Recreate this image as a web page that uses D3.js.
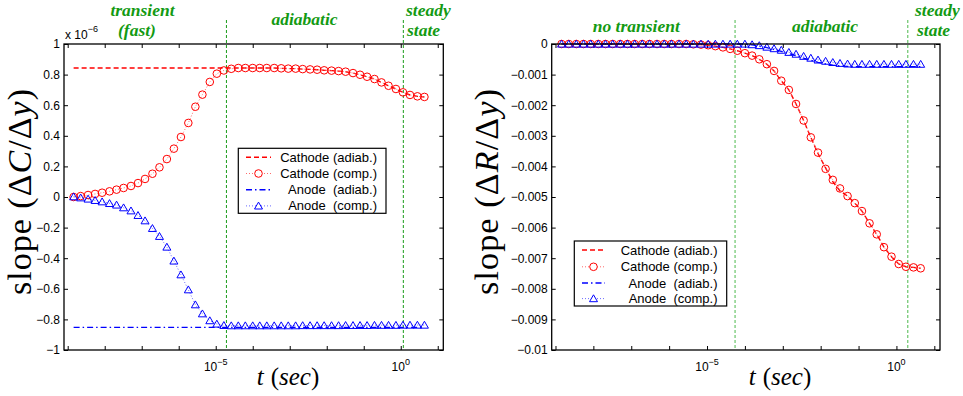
<!DOCTYPE html>
<html lang="en">
<head>
<meta charset="UTF-8">
<title>Slope vs time</title>
<script src="https://d3js.org/d3.v7.min.js"></script>
<style>
    body, html { margin: 0; padding: 0; background: #fff; }
    svg { display: block; font-family: 'Liberation Sans', Arial, sans-serif; }
    .axis text { font-size: 12px; fill: #000; font-family: 'Liberation Sans', Arial, sans-serif; }
    .axis line { stroke: #000; }
    .note { font-family: 'Liberation Serif', 'Times New Roman', serif; font-style: italic; font-weight: bold; font-size: 17.5px; fill: #139a13; }
    .legend text { font-size: 13px; white-space: pre; }
    .mathlab { font-family: 'Liberation Serif', 'Times New Roman', serif; fill: #000; }
</style>
</head>
<body>
<svg id="chart" width="963" height="396"></svg>
<script>
// sample times as log10(t / sec)
const logT = [-8.84, -8.65, -8.45, -8.26, -8.07, -7.87, -7.68, -7.49, -7.29, -7.10,
    -6.91, -6.71, -6.52, -6.32, -6.13, -5.94, -5.74, -5.55, -5.36, -5.16,
    -4.97, -4.78, -4.58, -4.39, -4.20, -4.00, -3.81, -3.62, -3.42, -3.23,
    -3.04, -2.84, -2.65, -2.45, -2.26, -2.07, -1.87, -1.68, -1.49, -1.29,
    -1.10, -0.91, -0.71, -0.52, -0.33, -0.13, 0.06, 0.25, 0.45, 0.64]

// left panel, slope dC/dy in units of 1e-6
const cathodeCompC = [0, 0.006, 0.013, 0.02, 0.028, 0.037, 0.048, 0.059, 0.072, 0.091,
    0.118, 0.152, 0.194, 0.248, 0.316, 0.392, 0.484, 0.59, 0.669, 0.752,
    0.806, 0.827, 0.838, 0.843, 0.843, 0.843, 0.843, 0.843, 0.843, 0.841,
    0.839, 0.839, 0.836, 0.834, 0.832, 0.828, 0.826, 0.823, 0.819, 0.81,
    0.799, 0.786, 0.771, 0.749, 0.727, 0.706, 0.684, 0.667, 0.658, 0.654]
const cathodeAdiabC = [0.843, 0.843, 0.843, 0.843, 0.843, 0.843, 0.843, 0.843, 0.843, 0.843,
    0.843, 0.843, 0.843, 0.843, 0.843, 0.843, 0.843, 0.843, 0.843, 0.843,
    0.843, 0.843, 0.843, 0.843, 0.843, 0.843, 0.843, 0.843, 0.843, 0.841,
    0.839, 0.839, 0.836, 0.834, 0.832, 0.828, 0.826, 0.823, 0.819, 0.81,
    0.799, 0.786, 0.771, 0.749, 0.727, 0.706, 0.684, 0.667, 0.658, 0.654]
const anodeCompC = [0.002, -0.005, -0.013, -0.022, -0.031, -0.042, -0.052, -0.07, -0.09, -0.12,
    -0.155, -0.205, -0.257, -0.327, -0.418, -0.508, -0.606, -0.704, -0.763, -0.808,
    -0.83, -0.839, -0.841, -0.841, -0.841, -0.841, -0.841, -0.841, -0.841, -0.841,
    -0.841, -0.841, -0.84, -0.84, -0.84, -0.84, -0.84, -0.84, -0.839, -0.839,
    -0.839, -0.839, -0.838, -0.838, -0.838, -0.838, -0.837, -0.837, -0.837, -0.837]
const anodeAdiabC = [-0.852, -0.852, -0.852, -0.852, -0.852, -0.852, -0.852, -0.852, -0.852, -0.852,
    -0.852, -0.852, -0.852, -0.852, -0.852, -0.852, -0.852, -0.852, -0.852, -0.852,
    -0.852, -0.852, -0.852, -0.852, -0.852, -0.852, -0.852, -0.852, -0.852, -0.852,
    -0.852, -0.852, -0.852, -0.852, -0.852, -0.852, -0.852, -0.852, -0.852, -0.852,
    -0.852, -0.852, -0.852, -0.852, -0.852, -0.852, -0.852, -0.852, -0.852, -0.852]

// right panel, slope dR/dy
const cathodeCompR = [0, 0, 0, 0, 0, 0, 0, 0, 0, 0,
    0, 0, 0, 0, 0, 0, 0, 0, -0.00001, -0.00002,
    -0.00004, -0.00007, -0.00011, -0.00016, -0.00022, -0.0003, -0.00038, -0.0005, -0.00066, -0.00088,
    -0.0012, -0.0015, -0.00196, -0.0025, -0.00305, -0.00355, -0.00408, -0.00444, -0.00472, -0.00497,
    -0.0052, -0.00546, -0.00586, -0.00622, -0.00664, -0.00695, -0.00719, -0.00728, -0.0073, -0.00733]
const cathodeAdiabR = [0, 0, 0, 0, 0, 0, 0, 0, 0, 0,
    0, 0, 0, 0, 0, 0, 0, 0, -0.00001, -0.00002,
    -0.00004, -0.00007, -0.00011, -0.00016, -0.00022, -0.0003, -0.00038, -0.0005, -0.00066, -0.00088,
    -0.0012, -0.0015, -0.00196, -0.0025, -0.00305, -0.00358, -0.00405, -0.0045, -0.0048, -0.00497,
    -0.0052, -0.00546, -0.00586, -0.00622, -0.00664, -0.00695, -0.00719, -0.00728, -0.0073, -0.00733]
const anodeCompR = [0, 0, 0, 0, 0, 0, 0, 0, 0, 0,
    0, 0, 0, 0, 0, 0, 0, 0, 0, 0,
    0, 0, 0, 0, 0, 0, -0.00002, -0.00005, -0.0001, -0.00015,
    -0.0002, -0.00027, -0.00033, -0.0004, -0.00046, -0.00052, -0.00056, -0.0006, -0.00063, -0.00065,
    -0.00066, -0.00066, -0.00066, -0.00066, -0.00066, -0.00066, -0.00066, -0.00066, -0.00066, -0.00066]
const anodeAdiabR = [0, 0, 0, 0, 0, 0, 0, 0, 0, 0,
    0, 0, 0, 0, 0, 0, 0, 0, 0, 0,
    0, 0, 0, 0, 0, 0, -0.00003, -0.00007, -0.00012, -0.00018,
    -0.00024, -0.00031, -0.00038, -0.00046, -0.00053, -0.0006, -0.00065, -0.00069, -0.00072, -0.00073,
    -0.00074, -0.00074, -0.00074, -0.00074, -0.00074, -0.00074, -0.00074, -0.00074, -0.00074, -0.00074]

const decades = [-9, -8, -7, -6, -5, -4, -3, -2, -1, 0, 1]
const labelledDecades = [-5, 0]
const yTicksC = [-1, -0.8, -0.6, -0.4, -0.2, 0, 0.2, 0.4, 0.6, 0.8, 1]
const yTicksR = [-0.01, -0.009, -0.008, -0.007, -0.006, -0.005, -0.004, -0.003, -0.002, -0.001, 0]
const legendLabels = ["Cathode (adiab.)", "Cathode (comp.)", "Anode  (adiab.)", "Anode  (comp.)"]
// regime boundaries, log10(t)
const boundsC = [-4.71, 0.07]
const boundsR = [-4.26, 0.30]

const svg = d3.select("#chart")

const triPath = "M0,-3.8L4,3.1L-4,3.1Z"

function drawPanel(p) {
    const g = svg.append("g")
    const x = d3.scaleLog().domain([Math.pow(10, -9.1), Math.pow(10, 1.15)]).range([p.left, p.right])
    const y = d3.scaleLinear().domain(p.yDomain).range([p.bottom, p.top])

    // regime separators
    g.selectAll(".sep").data(p.bounds).enter().append("line")
        .attr("x1", d => x(Math.pow(10, d))).attr("x2", d => x(Math.pow(10, d)))
        .attr("y1", 20).attr("y2", p.bottom)
        .style("stroke", p.sepColor).style("stroke-width", 1).style("stroke-dasharray", "3,2")

    // axes, ticks pointing inward like matlab
    g.append("g").attr("class", "axis").attr("transform", `translate(${p.left},0)`)
        .call(d3.axisLeft(y).tickValues(p.yTicks).tickSize(-4).tickSizeOuter(0).tickPadding(4).tickFormat(p.fmt))
    g.append("g").attr("class", "axis").attr("transform", `translate(${p.right},0)`)
        .call(d3.axisRight(y).tickValues(p.yTicks).tickSize(-4).tickSizeOuter(0).tickFormat(""))
    g.append("g").attr("class", "axis").attr("transform", `translate(0,${p.bottom})`)
        .call(d3.axisBottom(x).tickValues(decades.map(d => Math.pow(10, d))).tickSize(-4).tickSizeOuter(0).tickFormat(""))
    g.append("g").attr("class", "axis").attr("transform", `translate(0,${p.top})`)
        .call(d3.axisTop(x).tickValues(decades.map(d => Math.pow(10, d))).tickSize(-4).tickSizeOuter(0).tickFormat(""))
    g.selectAll(".axis .domain").remove()

    // x tick labels 10^n
    labelledDecades.forEach(d => {
        const t = g.append("text").attr("x", x(Math.pow(10, d))).attr("y", p.bottom + 21)
            .attr("text-anchor", "middle").style("font-size", "12px")
        t.append("tspan").text("10")
        t.append("tspan").attr("dy", -6).style("font-size", "9px").text(d === 0 ? "0" : "\u2212" + Math.abs(d))
    })

    // series
    const pts = (vals) => vals.map((v, i) => [logT[i], v])
    const line = d3.line().x(d => x(Math.pow(10, d[0]))).y(d => y(d[1]))

    g.append("path").attr("d", line(pts(p.cathAdiab))).style("fill", "none")
        .style("stroke", "#ff0000").style("stroke-width", 1.4).style("stroke-dasharray", "5,3")
    g.append("path").attr("d", line(pts(p.anAdiab))).style("fill", "none")
        .style("stroke", "#0000ff").style("stroke-width", 1.4).style("stroke-dasharray", "6,3,1.5,3")
    g.append("path").attr("d", line(pts(p.cathComp))).style("fill", "none")
        .style("stroke", "#ff6a6a").style("stroke-width", 1).style("stroke-dasharray", "1,2")
    g.append("path").attr("d", line(pts(p.anComp))).style("fill", "none")
        .style("stroke", "#6a6aff").style("stroke-width", 1).style("stroke-dasharray", "1,2")

    g.selectAll(".circ").data(pts(p.cathComp)).enter().append("circle")
        .attr("cx", d => x(Math.pow(10, d[0]))).attr("cy", d => y(d[1])).attr("r", 3.8)
        .style("fill", "none").style("stroke", "#ff0000").style("stroke-width", 1)
    g.selectAll(".tri").data(pts(p.anComp)).enter().append("path")
        .attr("d", triPath)
        .attr("transform", d => `translate(${x(Math.pow(10, d[0]))},${y(d[1])})`)
        .style("fill", "none").style("stroke", "#0000ff").style("stroke-width", 1)

    // box
    g.append("rect").attr("x", p.left).attr("y", p.top)
        .attr("width", p.right - p.left).attr("height", p.bottom - p.top)
        .style("fill", "none").style("stroke", "#000").style("stroke-width", 1.3)

    // legend
    const L = p.legend
    const lg = g.append("g").attr("class", "legend")
    lg.append("rect").attr("x", L.x).attr("y", L.y).attr("width", L.w).attr("height", L.h)
        .style("fill", "#fff").style("stroke", "#000").style("stroke-width", 1.2)
    const styles = [
        { c: "#ff0000", dash: "5,3", w: 1.4, m: null },
        { c: "#ff6a6a", dash: "1,2", w: 1, m: "circle" },
        { c: "#0000ff", dash: "6,3,1.5,3", w: 1.4, m: null },
        { c: "#6a6aff", dash: "1,2", w: 1, m: "tri" }
    ]
    legendLabels.forEach((lab, i) => {
        const ry = L.rows[i]
        const s = styles[i]
        lg.append("line").attr("x1", L.lx0).attr("x2", L.lx1).attr("y1", ry).attr("y2", ry)
            .style("stroke", s.c).style("stroke-width", s.w).style("stroke-dasharray", s.dash)
        const mx = (L.lx0 + L.lx1) / 2
        if (s.m === "circle") {
            lg.append("circle").attr("cx", mx).attr("cy", ry).attr("r", 3.8)
                .style("fill", "#fff").style("stroke", "#ff0000").style("stroke-width", 1)
        } else if (s.m === "tri") {
            lg.append("path").attr("d", triPath).attr("transform", `translate(${mx},${ry})`)
                .style("fill", "#fff").style("stroke", "#0000ff").style("stroke-width", 1)
        }
        lg.append("text").attr("x", L.tx).attr("y", ry + 4.5).attr("text-anchor", "end").text(lab)
    })

    // regime notes
    p.notes.forEach(n => {
        g.append("text").attr("class", "note").attr("x", n.x).attr("y", n.y)
            .attr("text-anchor", n.anchor || "middle").text(n.text)
    })

    // axis labels
    const yt = g.append("text").attr("class", "mathlab")
        .attr("transform", `translate(${p.ylabX},${p.ylabY}) rotate(-90)`)
        .attr("text-anchor", "middle").style("font-size", "34px")
        .attr("textLength", 206).attr("lengthAdjust", "spacing")
    yt.append("tspan").text("slope (\u0394")
    yt.append("tspan").style("font-style", "italic").text(p.yVar)
    yt.append("tspan").text("/\u0394")
    yt.append("tspan").style("font-style", "italic").text("y")
    yt.append("tspan").text(")")

    const xl = g.append("text").attr("class", "mathlab").attr("x", p.xlabX).attr("y", 385)
        .attr("text-anchor", "middle").style("font-size", "25px")
    xl.append("tspan").style("font-style", "italic").text("t")
    xl.append("tspan").attr("dx", 7).text("(")
    xl.append("tspan").style("font-style", "italic").text("sec")
    xl.append("tspan").text(")")
    return g
}

const gl = drawPanel({
    left: 64, right: 443.3, top: 44, bottom: 350,
    yDomain: [-1, 1], yTicks: yTicksC, fmt: d3.format(".1~f"),
    cathComp: cathodeCompC, cathAdiab: cathodeAdiabC, anComp: anodeCompC, anAdiab: anodeAdiabC,
    bounds: boundsC, sepColor: "#1a9c1a",
    legend: { x: 238.3, y: 148.3, w: 147.7, h: 65, lx0: 246, lx1: 271, tx: 377, rows: [157.3, 173.5, 189.7, 205.9] },
    notes: [
        { text: "transient", x: 142.5, y: 16 },
        { text: "(fast)", x: 137, y: 35.5 },
        { text: "adiabatic", x: 304.5, y: 25 },
        { text: "steady", x: 406, y: 15.5, anchor: "start" },
        { text: "state", x: 407, y: 35.5, anchor: "start" }
    ],
    yVar: "C", ylabX: 31, ylabY: 192, xlabX: 288
})
// exponent label for the left y axis
const ex = gl.append("text").attr("x", 65).attr("y", 38.5).style("font-size", "12px")
ex.append("tspan").text("x 10")
ex.append("tspan").attr("dy", -7).style("font-size", "9px").text("\u22126")

drawPanel({
    left: 551.7, right: 940, top: 44, bottom: 350,
    yDomain: [-0.01, 0], yTicks: yTicksR, fmt: d3.format(".3~f"),
    cathComp: cathodeCompR, cathAdiab: cathodeAdiabR, anComp: anodeCompR, anAdiab: anodeAdiabR,
    bounds: boundsR, sepColor: "#4cb84c",
    legend: { x: 574.3, y: 241, w: 152.4, h: 65, lx0: 582, lx1: 605, tx: 717.5, rows: [250, 266.8, 283, 298.6] },
    notes: [
        { text: "no transient", x: 636.3, y: 31.5 },
        { text: "adiabatic", x: 825, y: 31.5 },
        { text: "steady", x: 915, y: 15.5, anchor: "start" },
        { text: "state", x: 917, y: 35.5, anchor: "start" }
    ],
    yVar: "R", ylabX: 498, ylabY: 192, xlabX: 780
})
</script>
</body>
</html>
